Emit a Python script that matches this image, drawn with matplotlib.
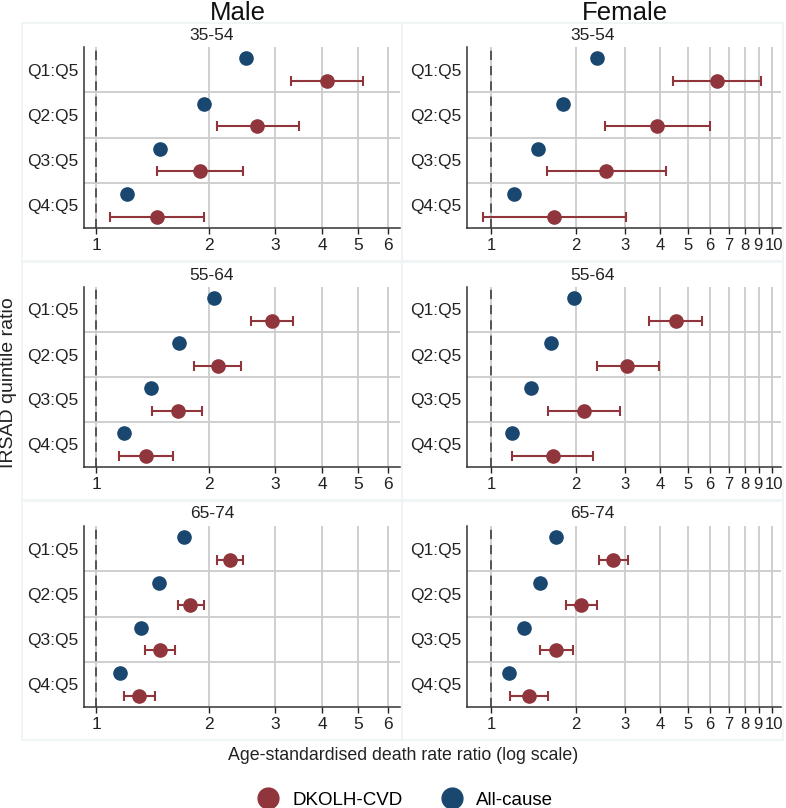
import matplotlib
matplotlib.use("Agg")
import matplotlib.pyplot as plt
import matplotlib.transforms as mtransforms
from matplotlib.patches import Rectangle
from matplotlib.lines import Line2D
from matplotlib.ticker import FixedLocator, NullLocator

plt.rcParams['font.family'] = ['Liberation Sans', 'DejaVu Sans']

quintiles = ["Q1:Q5", "Q2:Q5", "Q3:Q5", "Q4:Q5"]
age_groups = ["35-54", "55-64", "65-74"]

# all-cause ratios, one row per age group
male_allcause = [[2.51, 1.94, 1.48, 1.21],
                 [2.06, 1.66, 1.40, 1.19],
                 [1.72, 1.47, 1.32, 1.16]]
female_allcause = [[2.39, 1.80, 1.47, 1.21],
                   [1.98, 1.63, 1.39, 1.19],
                   [1.70, 1.49, 1.31, 1.16]]

# DKOLH-CVD ratios with 95% CI
male_cvd = [[4.12, 2.68, 1.89, 1.45],
            [2.95, 2.11, 1.65, 1.36],
            [2.27, 1.78, 1.48, 1.30]]
male_cvd_lo = [[3.31, 2.10, 1.45, 1.09],
               [2.58, 1.82, 1.41, 1.15],
               [2.10, 1.65, 1.35, 1.19]]
male_cvd_hi = [[5.13, 3.47, 2.47, 1.94],
               [3.34, 2.43, 1.92, 1.60],
               [2.46, 1.94, 1.62, 1.44]]

female_cvd = [[6.38, 3.89, 2.57, 1.68],
              [4.56, 3.05, 2.15, 1.66],
              [2.72, 2.09, 1.71, 1.36]]
female_cvd_lo = [[4.45, 2.54, 1.58, 0.94],
                 [3.66, 2.39, 1.59, 1.19],
                 [2.42, 1.85, 1.49, 1.17]]
female_cvd_hi = [[9.12, 6.01, 4.20, 3.01],
                 [5.64, 3.95, 2.88, 2.30],
                 [3.06, 2.39, 1.96, 1.59]]

male_ticks = [1, 2, 3, 4, 5, 6]
female_ticks = [1, 2, 3, 4, 5, 6, 7, 8, 9, 10]

RED = "#90353B"
BLUE = "#1A476F"
GRID = "#cccccc"

W, H = 786, 808
fig = plt.figure(figsize=(W / 100, H / 100), dpi=100)


def fx(px):
    return px / W


def fy(py):
    return 1 - py / H


# panel rows (top px, bottom px) and columns (left px, right px)
rows = [(47, 228), (287, 467), (526, 707)]
cols = [(84, 400), (466.7, 781)]
boxes_x = [(22, 402), (402, 783)]
boxes_y = [(23, 261), (262, 500), (501, 740)]

sexes = [
    dict(allc=male_allcause, cvd=male_cvd, lo=male_cvd_lo, hi=male_cvd_hi,
         ticks=male_ticks, xlim=(0.929, 6.45), tsize=12.5),
    dict(allc=female_allcause, cvd=female_cvd, lo=female_cvd_lo, hi=female_cvd_hi,
         ticks=female_ticks, xlim=(0.82, 10.74), tsize=12),
]

for c, sex in enumerate(sexes):
    for r, age in enumerate(age_groups):
        # light panel frame
        bx0, bx1 = boxes_x[c]
        by0, by1 = boxes_y[r]
        fig.patches.append(Rectangle((fx(bx0), fy(by1)), fx(bx1 - bx0), (by1 - by0) / H,
                                     transform=fig.transFigure, fill=False,
                                     edgecolor="#eef4f5", lw=1.2, zorder=0))
        top, bot = rows[r]
        left, right = cols[c]
        ax = fig.add_axes([fx(left), fy(bot), fx(right - left), (bot - top) / H])
        ax.set_xscale("log")
        ax.set_xlim(*sex["xlim"])
        ax.set_ylim(4.5, 0.5)

        ypos = [i + 1 for i in range(len(quintiles))]
        for t in sex["ticks"]:
            ax.axvline(t, color=GRID, lw=1.3, zorder=0)
        for b in [1.5, 2.5, 3.5]:
            ax.axhline(b, color=GRID, lw=1.3, zorder=0)
        ax.axvline(1, color="#333333", lw=1.1, dashes=(6, 4), zorder=1)

        cvd = sex["cvd"][r]
        lo = sex["lo"][r]
        hi = sex["hi"][r]
        err = [[v - l for v, l in zip(cvd, lo)], [h - v for v, h in zip(cvd, hi)]]
        ax.errorbar(cvd, [y + 0.25 for y in ypos], xerr=err, fmt="o", color=RED,
                    ms=9.5, ecolor=RED, elinewidth=1.5, capsize=3.5, capthick=1.5, zorder=3)
        ax.plot(sex["allc"][r], [y - 0.25 for y in ypos], "o", color=BLUE, ms=9.5, zorder=3)

        ax.xaxis.set_major_locator(FixedLocator(sex["ticks"]))
        ax.xaxis.set_minor_locator(NullLocator())
        ax.set_xticklabels([str(t) for t in sex["ticks"]])
        ax.set_yticks(ypos)
        ax.set_yticklabels(quintiles)
        ax.tick_params(axis="y", length=0, pad=4, labelsize=12.5, colors="#222222")
        ax.tick_params(axis="x", length=4.5, width=1, pad=3, labelsize=sex["tsize"],
                       colors="#222222")
        if c == 1:
            # the 9 and 10 labels sit very close, nudge them apart a little
            labs = ax.get_xticklabels()
            for lab, dx in [(labs[-2], -1.5), (labs[-1], 2)]:
                off = mtransforms.ScaledTranslation(dx / 100, 0, fig.dpi_scale_trans)
                lab.set_transform(lab.get_transform() + off)
        for s in ["top", "right"]:
            ax.spines[s].set_visible(False)
        for s in ["left", "bottom"]:
            ax.spines[s].set_color("#333333")
            ax.spines[s].set_linewidth(1.1)

        fig.text((fx(bx0) + fx(bx1)) / 2, fy(top - 12), age, ha="center", va="center",
                 fontsize=12.5, color="#222222")

fig.text(fx(238), fy(13), "Male", ha="center", va="center", fontsize=18.5, color="#111111")
fig.text(fx(625), fy(13), "Female", ha="center", va="center", fontsize=18.5, color="#111111")
fig.text(fx(9), fy(383), "IRSAD quintile ratio", rotation=90, ha="center", va="center",
         fontsize=14, color="#222222")
fig.text(fx(403), fy(755), "Age-standardised death rate ratio (log scale)", ha="center",
         va="center", fontsize=12.8, color="#222222")

handles = [Line2D([], [], ls="none", marker="o", ms=15, color=RED, label="DKOLH-CVD"),
           Line2D([], [], ls="none", marker="o", ms=15, color=BLUE, label="All-cause")]
fig.legend(handles=handles, loc="center", bbox_to_anchor=(fx(405), fy(800)), ncol=2,
           frameon=False, fontsize=13.5, handletextpad=0.7, columnspacing=2.0,
           handlelength=1.2)

fig.savefig("out.png", dpi=100)
